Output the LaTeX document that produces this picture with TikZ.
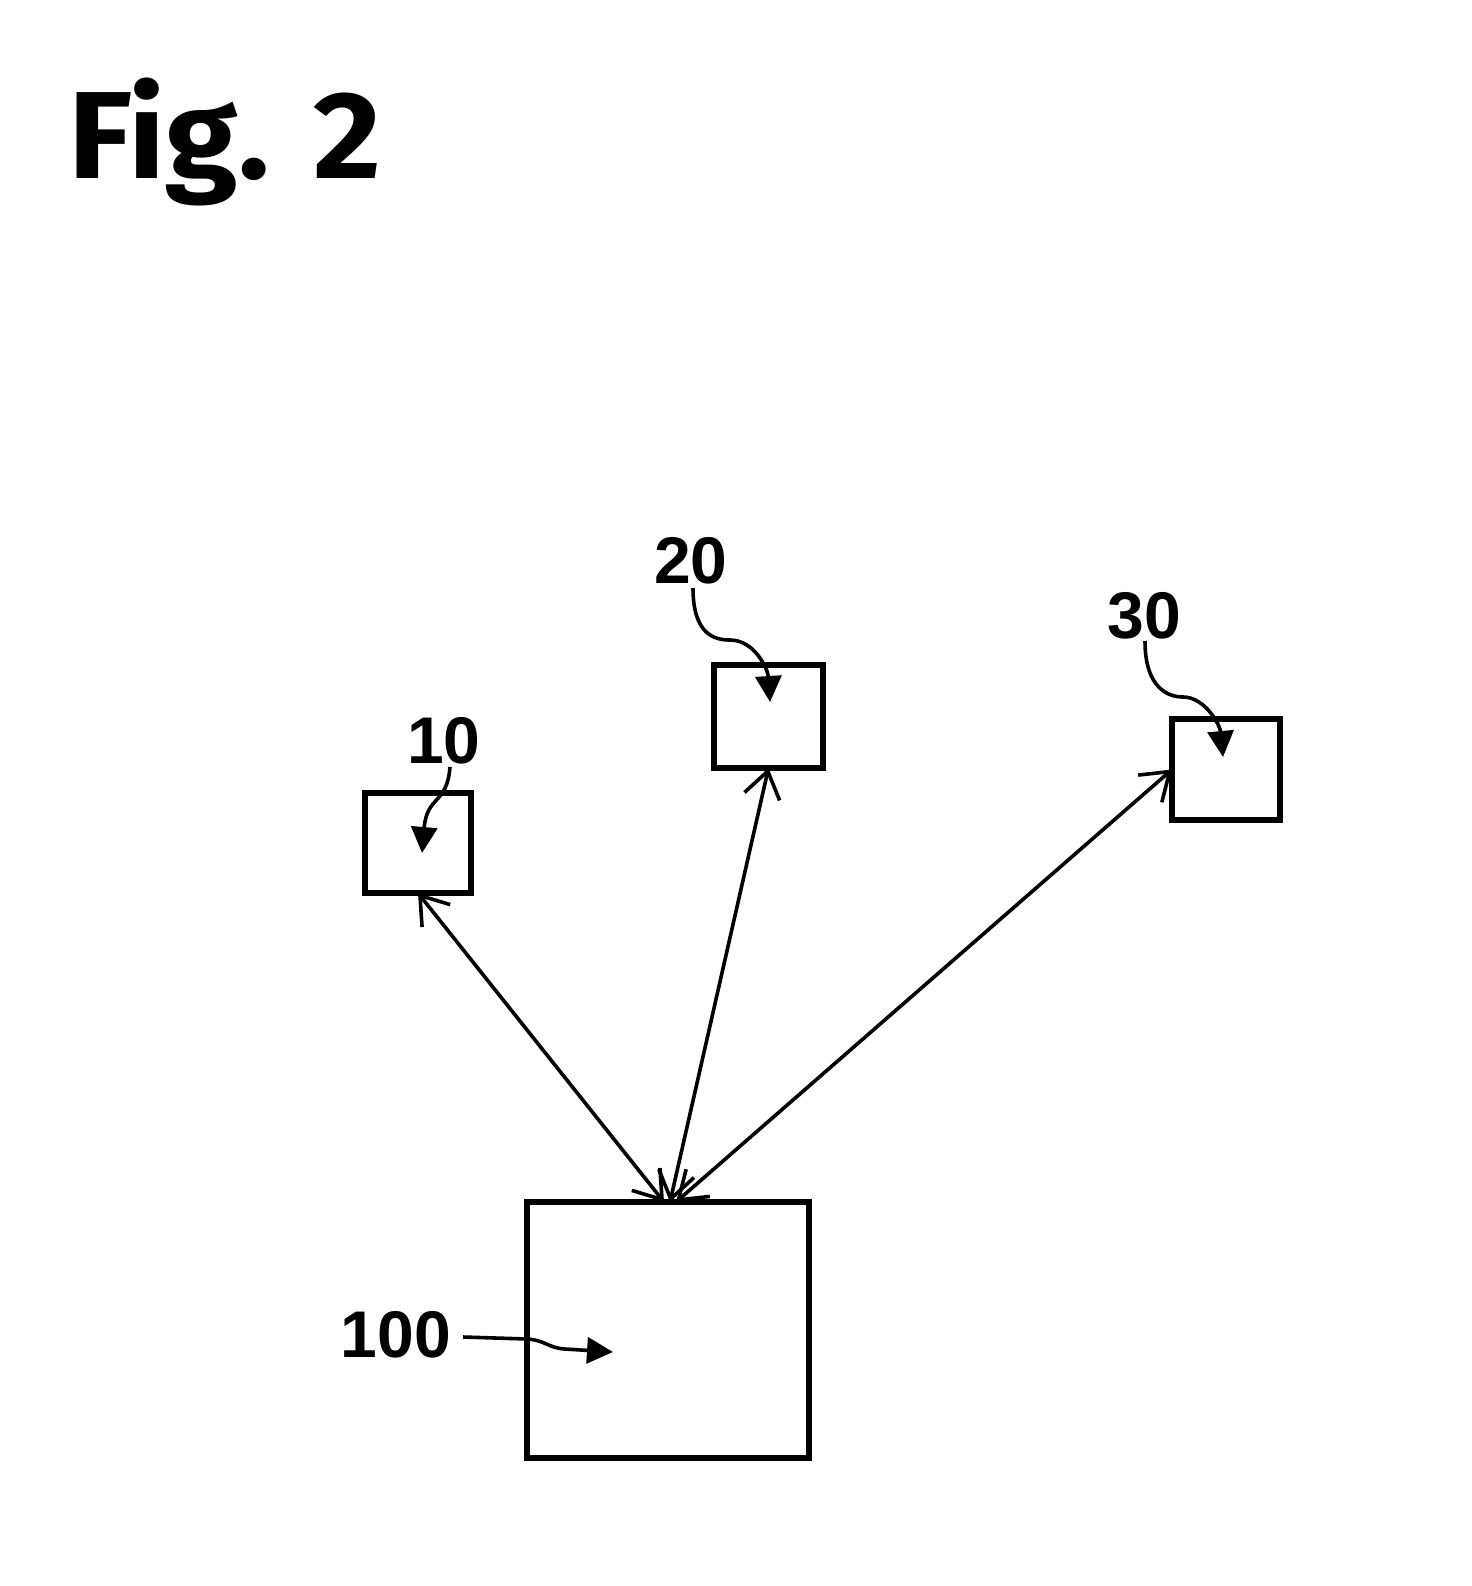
\documentclass[tikz,border=0pt]{standalone}
\usepackage{fontspec}
\setmainfont{Liberation Sans}
\newfontfamily\figfont[FakeStretch=1.06]{Fira Sans}
\usetikzlibrary{arrows.meta}

\tikzset{
  unitbox/.style={draw,line width=2.6pt,inner sep=0pt,outer sep=0pt},
  reflabel/.style={inner sep=0pt,anchor=base,font=\fontsize{33}{33}\selectfont\bfseries},
  link/.style={line width=1.8pt,{Straight Barb[length=13pt,width=18pt]}-{Straight Barb[length=13pt,width=18pt]}},
  leader/.style={line width=1.8pt,-{Triangle[length=13pt,width=13pt]}}
}

\begin{document}
\begin{tikzpicture}[x=0.5pt,y=-0.5pt]
    \useasboundingbox[fill=white](0,0) rectangle (1472,1586);
    \node[inner sep=0pt,anchor=base west,font=\fontsize{62}{62}\selectfont\figfont\bfseries] (title) at (68,178) {Fig.\hspace{1pt} 2};
    % boxes
    \node[unitbox,minimum width=53pt,minimum height=50pt] (b10) at (418,843) {};
    \node[unitbox,minimum width=54.5pt,minimum height=51.5pt] (b20) at (768.5,716.5) {};
    \node[unitbox,minimum width=54pt,minimum height=50.5pt] (b30) at (1226,769.5) {};
    \node[unitbox,minimum width=141pt,minimum height=128pt] (b100) at (668,1330) {};
    % links
    \draw[link]([xshift=-2pt]b100.north)--(b10.south);
    \draw[link]([xshift=1pt]b100.north)--(b20.south);
    \draw[link]([xshift=4pt]b100.north)--(b30.west);
    % reference numerals
    \node[reflabel] (l10) at (444,763) {10};
    \node[reflabel] (l20) at (691,583) {20};
    \node[reflabel] (l30) at (1144,638) {30};
    \node[reflabel] (l100) at (396,1357) {100};
    \coordinate (p10) at (422,853);
    \coordinate (p20) at (770,702);
    \coordinate (p30) at (1223,757);
    \coordinate (p100) at (613,1352);
    \draw[leader](450,767) .. controls (447,805) and (427,795) .. (p10);
    \draw[leader](693,588) .. controls (693,635) and (715,640) .. (730,640) .. controls (755,640) and (768,670) .. (p20);
    \draw[leader](1145,641) .. controls (1145,690) and (1170,697) .. (1183,697) .. controls (1205,697) and (1220,725) .. (p30);
    \draw[leader](463,1337)--(527,1339) .. controls (545,1340) and (548,1348) .. (565,1349)--(p100);
\end{tikzpicture}
\end{document}
